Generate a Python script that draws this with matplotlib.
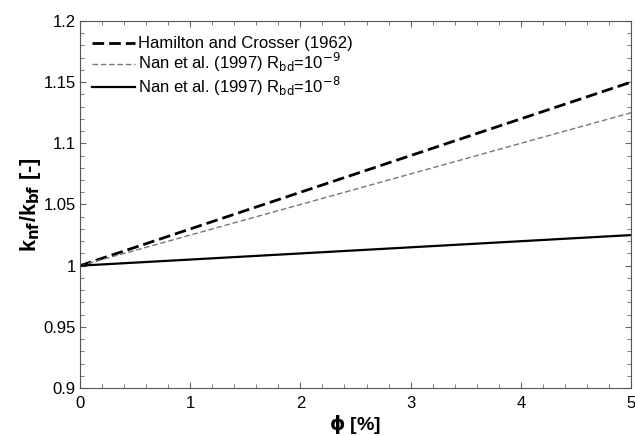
import matplotlib.pyplot as plt
from matplotlib.ticker import MultipleLocator

plt.rcParams['font.family'] = ['Liberation Sans', 'DejaVu Sans']

phi = [0, 1, 2, 3, 4, 5]
hamilton = [1.0, 1.030, 1.060, 1.090, 1.120, 1.150]
nan_1e9 = [1.0, 1.025, 1.050, 1.075, 1.100, 1.125]
nan_1e8 = [1.0, 1.005, 1.010, 1.015, 1.020, 1.025]

fig = plt.figure(figsize=(6.35, 4.36), dpi=100)
ax = fig.add_axes([80 / 635, 48 / 436, 551 / 635, 367 / 436])

ax.plot(phi, hamilton, color='black', lw=2.0, dashes=(4.2, 1.8), label='Hamilton and Crosser (1962)')
ax.plot(phi, nan_1e9, color='#777777', lw=1.0, dashes=(4, 2), label=r'Nan et al. (1997) R$_{\rm bd}$=10$^{-9}$')
ax.plot(phi, nan_1e8, color='black', lw=1.6, label=r'Nan et al. (1997) R$_{\rm bd}$=10$^{-8}$')

ax.set_xlim(0, 5)
ax.set_ylim(0.9, 1.2)
ax.xaxis.set_major_locator(MultipleLocator(1))
ax.xaxis.set_minor_locator(MultipleLocator(0.2))
ax.yaxis.set_minor_locator(MultipleLocator(0.01))
ax.set_yticks([0.9, 0.95, 1.0, 1.05, 1.1, 1.15, 1.2])
ax.set_yticklabels(['0.9', '0.95', '1', '1.05', '1.1', '1.15', '1.2'])
ax.tick_params(which='both', direction='in', top=True, right=True, labelsize=12,
               color='#666666')
ax.tick_params(which='major', length=4)
ax.tick_params(which='minor', length=3)
ax.tick_params(axis='x', pad=6)
ax.tick_params(axis='y', pad=3)
for s in ax.spines.values():
    s.set_color('#555555')

ax.set_xlabel(r'$\mathbf{\phi}$ [%]', fontsize=14, fontweight='bold', labelpad=1)
ax.set_ylabel(r'k$_{\mathbf{nf}}$/k$_{\mathbf{bf}}$ [-]', fontsize=15.5, fontweight='bold', labelpad=0)

ax.legend(loc='upper left', frameon=False, fontsize=12, handlelength=2.6,
          handletextpad=0.15, labelspacing=0.0, borderaxespad=0.3,
          bbox_to_anchor=(0.0, 0.99))

fig.savefig('out.png', dpi=100)
